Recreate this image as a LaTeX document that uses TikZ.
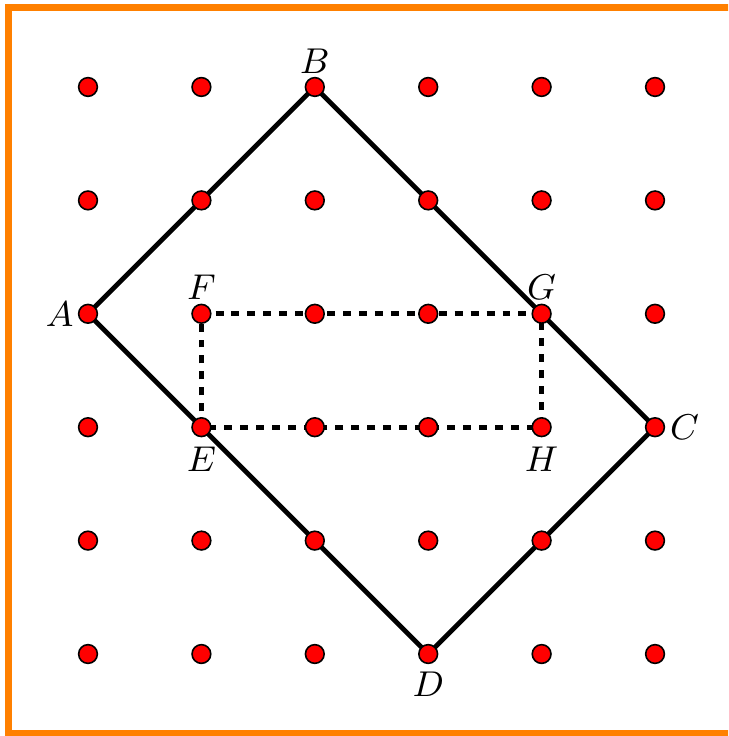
\documentclass[tikz,border=0pt]{standalone}
\usepackage{xcolor}
\usetikzlibrary{calc}
\begin{document}
\begin{tikzpicture}[x=1cm,y=1cm,
  dotnode/.style={circle,fill=red,draw=black,line width=0.4pt,inner sep=0pt,minimum size=4.7pt},
  edgeline/.style={line width=1.2pt,black,line join=round},
  rectline/.style={line width=1.2pt,black,dash pattern=on 2pt off 2pt},
  framebox/.style={draw=orange,line width=1.8pt},
  lbl/.style={inner sep=0pt,font=\fontsize{9}{11}\selectfont}]
\clip (-0.776,-0.723) rectangle (5.644,5.767);
\useasboundingbox (-0.776,-0.723) rectangle (5.644,5.767);
\draw[framebox] (-0.7,-0.7) rectangle (5.9,5.7);
\foreach \i in {0,...,5}{\foreach \j in {0,...,5}{\coordinate (p-\i-\j) at (\i,\j);}}
\draw[edgeline] (p-0-3) -- (p-2-5) -- (p-5-2) -- (p-3-0) -- cycle;
\draw[rectline] (p-1-2) -- (p-1-3) -- (p-4-3) -- (p-4-2) -- cycle;
\foreach \i in {0,...,5}{\foreach \j in {0,...,5}{\node[dotnode] (n-\i-\j) at (p-\i-\j) {};}}
\node[lbl] (lA) at ($(p-0-3)+(-0.25,0)$) {$A$};
\node[lbl] (lB) at ($(p-2-5)+(0,0.225)$) {$B$};
\node[lbl] (lC) at ($(p-5-2)+(0.26,0)$) {$C$};
\node[lbl] (lD) at ($(p-3-0)+(0,-0.27)$) {$D$};
\node[lbl] (lE) at ($(p-1-2)+(0,-0.285)$) {$E$};
\node[lbl] (lF) at ($(p-1-3)+(0,0.23)$) {$F$};
\node[lbl] (lG) at ($(p-4-3)+(0,0.23)$) {$G$};
\node[lbl] (lH) at ($(p-4-2)+(0,-0.285)$) {$H$};
\end{tikzpicture}
\end{document}
